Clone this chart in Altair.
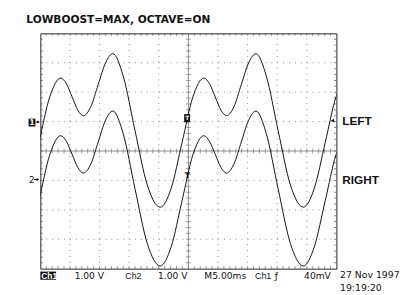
import altair as alt
import numpy as np
import pandas as pd

# ---------------- data ----------------
TITLE = "LOWBOOST=MAX, OCTAVE=ON"
# sample times (ms, 5 ms/div) along the traces
t_ms = [-3.92, -2.09, -0.25, 1.59, 3.43, 4.39, 5.36, 6.32, 7.29, 8.53,
        9.77, 11.01, 12.25, 13.99, 15.98, 18.05, 20.25, 22.09, 23.92, 25.76,
        27.60, 28.56, 29.53, 30.50, 31.46, 32.70, 33.94, 35.18, 36.42, 38.16,
        40.15, 42.22, 44.42, 46.26, 48.10, 49.93, 51.77]
# channel voltages (V, 1 V/div) relative to each channel's ground marker
ch1_v = [-2.91, -2.27, -0.72, 0.84, 1.48, 1.29, 0.84, 0.39, 0.20, 0.51,
         1.26, 2.00, 2.31, 1.55, -0.30, -2.15, -2.91, -2.27, -0.72, 0.84,
         1.48, 1.29, 0.84, 0.39, 0.20, 0.51, 1.26, 2.00, 2.31, 1.55,
         -0.30, -2.15, -2.91, -2.27, -0.72, 0.84, 1.48]
ch2_v = [-2.91, -2.26, -0.70, 0.87, 1.52, 1.33, 0.89, 0.44, 0.25, 0.56,
         1.31, 2.05, 2.36, 1.59, -0.28, -2.14, -2.91, -2.26, -0.70, 0.87,
         1.52, 1.33, 0.89, 0.44, 0.25, 0.56, 1.31, 2.05, 2.36, 1.59,
         -0.28, -2.14, -2.91, -2.26, -0.70, 0.87, 1.52]
channel_names = ["CH1", "CH2"]
channel_labels = ["LEFT", "RIGHT"]
status_tokens = ["Ch1", "1.00 V", "Ch2", "1.00 V", "M5.00ms", "Ch1", "ƒ", "40mV"]
date_lines = ["27 Nov 1997", "19:19:20"]

# ---------------- layout helpers ----------------
W, H = 302, 240
CH_OFFSET = {"CH1": 1.0, "CH2": -1.0}
xs = alt.Scale(domain=[0, 50], nice=False, zero=False)
ys = alt.Scale(domain=[-4, 4], nice=False, zero=False)


def X(field=None, datum=None):
    if field is not None:
        return alt.X(field, type="quantitative", scale=xs, axis=None)
    return alt.X(datum=datum, type="quantitative", scale=xs, axis=None)


def Y(field=None, datum=None):
    if field is not None:
        return alt.Y(field, type="quantitative", scale=ys, axis=None)
    return alt.Y(datum=datum, type="quantitative", scale=ys, axis=None)


def X2(datum):
    return alt.X2(datum=datum)


def Y2(datum):
    return alt.Y2(datum=datum)


one = pd.DataFrame({"k": [0]})

rows = []
for name, vals in zip(channel_names, [ch1_v, ch2_v]):
    for t, v in zip(t_ms, vals):
        rows.append({"ch": name, "t": t, "pos": v + CH_OFFSET[name]})
wave = pd.DataFrame(rows)

GRID = "#8c8c8c"
INK = "#111111"

# dotted graticule
vmaj = pd.DataFrame({"t": [5, 10, 15, 20, 30, 35, 40, 45]})
hmaj = pd.DataFrame({"v": [-3, -2, -1, 1, 2, 3]})
grid_v = alt.Chart(vmaj).mark_rule(color=GRID, strokeDash=[1, 5], strokeWidth=1).encode(
    x=X("t"), y=Y(datum=-4), y2=Y2(4))
grid_h = alt.Chart(hmaj).mark_rule(color=GRID, strokeDash=[1, 5.04], strokeWidth=1).encode(
    y=Y("v"), x=X(datum=0), x2=X2(50))
center_v = alt.Chart(one).mark_rule(color=GRID, strokeWidth=1).encode(
    x=X(datum=25), y=Y(datum=-4), y2=Y2(4))
center_h = alt.Chart(one).mark_rule(color=GRID, strokeWidth=1).encode(
    y=Y(datum=0), x=X(datum=0), x2=X2(50))

xminor = pd.DataFrame({"t": np.arange(1, 50, 1.0)})
yminor = pd.DataFrame({"v": np.round(np.arange(-3.8, 3.81, 0.2), 2)})

ticks = []
for yv in (4, -4):
    ticks.append(alt.Chart(xminor).mark_tick(orient="vertical", size=5, thickness=1, color="#555", clip=True)
                 .encode(x=X("t"), y=Y(datum=yv)))
for xv in (0, 50):
    ticks.append(alt.Chart(yminor).mark_tick(orient="horizontal", size=5, thickness=1, color="#555", clip=True)
                 .encode(y=Y("v"), x=X(datum=xv)))
ticks.append(alt.Chart(xminor).mark_tick(orient="vertical", size=5, thickness=1, color="#777")
             .encode(x=X("t"), y=Y(datum=0)))
ticks.append(alt.Chart(yminor).mark_tick(orient="horizontal", size=5, thickness=1, color="#777")
             .encode(y=Y("v"), x=X(datum=25)))

traces = alt.Chart(wave).mark_line(interpolate="monotone", clip=True, color=INK, strokeWidth=1.0).encode(
    x=X("t"), y=Y("pos"), detail="ch:N")


def txt(s, t, v, size, weight="normal", color=INK, font="DejaVu Sans", align="left", baseline="alphabetic"):
    return alt.Chart(pd.DataFrame({"s": [s]})).mark_text(
        font=font, fontSize=size, fontWeight=weight, color=color, align=align, baseline=baseline
    ).encode(x=X(datum=t), y=Y(datum=v), text="s:N")


def box(t1, t2, v1, v2, color=INK):
    return alt.Chart(one).mark_rect(color=color).encode(
        x=X(datum=t1), x2=X2(t2), y=Y(datum=v1), y2=Y2(v2))


def arrow(t1, t2, v):
    shaft = alt.Chart(one).mark_rule(color=INK, strokeWidth=1).encode(
        x=X(datum=t1), x2=X2(t2), y=Y(datum=v))
    head = alt.Chart(one).mark_point(shape="triangle-right", filled=True, size=10, color=INK, opacity=1).encode(
        x=X(datum=t2), y=Y(datum=v))
    return [shaft, head]


annots = [
    txt(TITLE, -2.37, 4.343, 10.8, "bold"),
    txt(channel_labels[0], 50.99, 0.90, 12, "bold", font="Liberation Sans"),
    txt(channel_labels[1], 50.99, -1.117, 12, "bold", font="Liberation Sans"),
    # ch1 ground marker
    box(-1.99, -0.83, 1.10, 0.833),
    txt("1", -1.41, 0.87, 8, "bold", color="white", align="center"),
    *arrow(-0.80, -0.30, 0.985),
    # ch2 ground marker
    txt("2", -1.90, -1.10, 9, "normal", align="left"),
    *arrow(-1.05, -0.40, -0.97),
    # trigger markers
    box(24.29, 25.28, 1.257, 0.977),
    txt("T", 24.8, 1.117, 6, "bold", color="white", align="center", baseline="middle"),
    txt("T", 24.83, -0.856, 8, "bold", align="center", baseline="middle"),
    alt.Chart(one).mark_point(shape="triangle-left", filled=True, size=14, color=INK, opacity=1).encode(
        x=X(datum=49.34), y=Y(datum=1.033)),
    # status line
    box(0, 2.65, -4.10, -4.377),
    txt(status_tokens[0], 0.17, -4.35, 8.5, "bold", color="white", font="Liberation Sans"),
    txt(status_tokens[1], 5.79, -4.35, 9.3),
    txt(status_tokens[2], 14.35, -4.35, 9, "normal", font="Liberation Sans"),
    txt(status_tokens[3], 19.87, -4.35, 9.3),
    txt(status_tokens[4], 27.70, -4.35, 9.3),
    txt(status_tokens[5], 36.26, -4.35, 9, "normal", font="Liberation Sans"),
    txt(status_tokens[6], 39.57, -4.35, 9.3),
    txt(status_tokens[7], 44.54, -4.35, 9.3),
    txt(date_lines[0], 50.61, -4.323, 9.5),
    txt(date_lines[1], 50.61, -4.767, 9.5),
]

chart = alt.layer(grid_v, grid_h, center_v, center_h, *ticks, traces, *annots).properties(
    width=W, height=H, autosize="none",
    padding={"left": 33, "top": 23, "right": 72, "bottom": 24},
    background="white",
).configure_view(stroke="#222222", strokeWidth=1)

chart.save("out.html", embed_options={"renderer": "svg", "actions": False})
